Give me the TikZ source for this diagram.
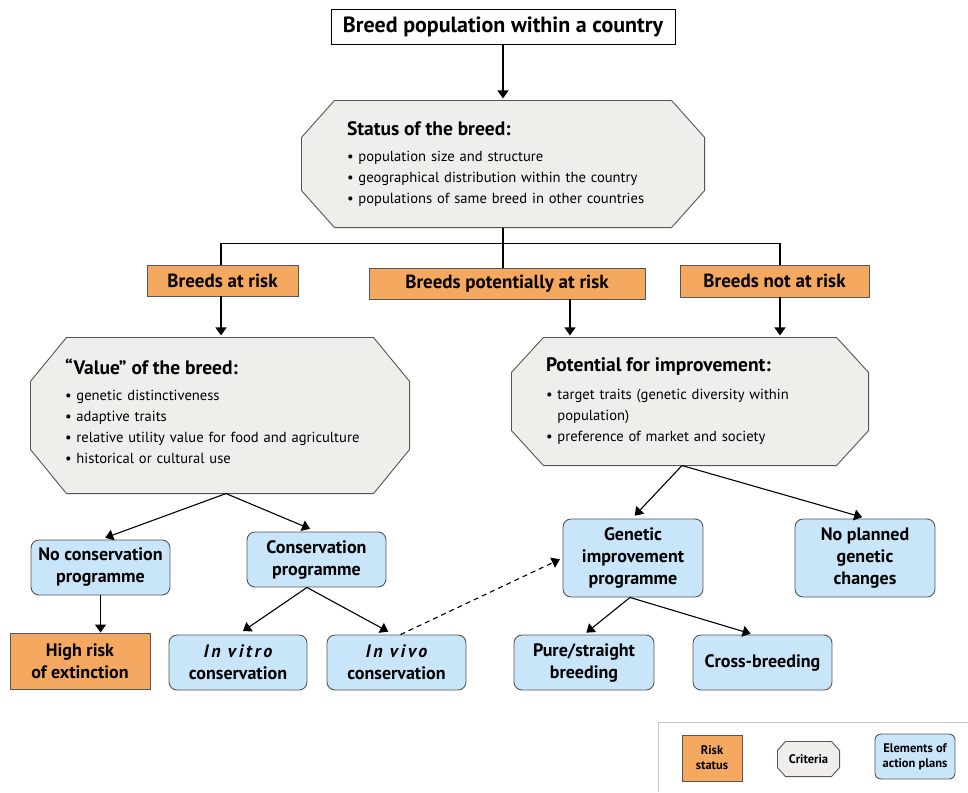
\documentclass[tikz,border=0pt]{standalone}
\usepackage{fontspec}
\setmainfont{PT Sans}
\usetikzlibrary{positioning, arrows.meta, calc, backgrounds}

\definecolor{riskfill}{RGB}{245,168,96}
\definecolor{planfill}{RGB}{200,229,249}
\definecolor{critfill}{RGB}{239,238,235}
\definecolor{boxline}{RGB}{85,85,85}
\definecolor{legline}{RGB}{200,200,200}

% octagon drawn round a (frameless) criteria node
\newcommand{\critframe}[3]{%
  \draw[boxline, fill=critfill, line width=0.9pt]
    ($(#1.north west)+(#2,0)$) -- ($(#1.north east)+(-#2,0)$) -- ($(#1.north east)+(0,#3)$)
    -- ($(#1.south east)+(0,-#3)$) -- ($(#1.south east)+(-#2,0)$) -- ($(#1.south west)+(#2,0)$)
    -- ($(#1.south west)+(0,-#3)$) -- ($(#1.north west)+(0,#3)$) -- cycle;}

\begin{document}
\begin{tikzpicture}[x=1pt, y=-1pt, line width=1.1pt,
    risk/.style = {draw=boxline, fill=riskfill, line width=0.9pt, align=center,
                   font=\fontsize{19}{22}\selectfont\bfseries},
    plan/.style = {draw=boxline, fill=planfill, line width=0.9pt, rounded corners=8pt, align=center,
                   minimum width=139pt, minimum height=55pt, font=\fontsize{18}{22}\selectfont\bfseries},
    crit/.style = {inner xsep=0pt, align=left, font=\fontsize{14.6}{21}\selectfont},
    arr/.style = {-{Triangle[length=8pt,width=11pt]}, line width=1.1pt},
    linkdash/.style = {dash pattern=on 5pt off 4pt}]
    \useasboundingbox (0,0) rectangle (968,792);

    % top of the tree
    \node[draw=black, line width=0.9pt, fill=white, minimum width=344pt, minimum height=35pt,
          font=\fontsize{22}{24}\selectfont\bfseries] (country) at (503,26.5) {Breed population within a country};

    \node[crit, minimum width=402pt, minimum height=126pt, text width=312pt] (status) at (503,164)
        {{\fontsize{19.5}{22}\selectfont\bfseries Status of the breed:}\\[5pt]
         \textbullet\ population size and structure\\
         \textbullet\ geographical distribution within the country\\
         \textbullet\ populations of same breed in other countries};

    % risk status
    \node[risk, minimum width=151pt, minimum height=31pt] (atrisk) at (222.5,280.5) {Breeds at risk};
    \node[risk, minimum width=276pt, minimum height=31pt] (potrisk) at (507,283.5) {Breeds potentially at risk};
    \node[risk, minimum width=189pt, minimum height=32pt] (norisk) at (774.5,281) {Breeds not at risk};

    % criteria
    \node[crit, minimum width=378pt, minimum height=155pt, text width=310pt] (value) at (220,415.5)
        {{\fontsize{19.5}{22}\selectfont\bfseries “Value” of the breed:}\\[5pt]
         \textbullet\ genetic distinctiveness\\
         \textbullet\ adaptive traits\\
         \textbullet\ relative utility value for food and agriculture\\
         \textbullet\ historical or cultural use\\[-13pt]\mbox{}};
    \node[crit, minimum width=356pt, minimum height=127pt, text width=288pt] (improve) at (690,401.5)
        {{\fontsize{19.5}{22}\selectfont\bfseries Potential for improvement:}\\[7pt]
         \textbullet\ target traits (genetic diversity within\\
         \phantom{\textbullet\ }population)\\
         \textbullet\ preference of market and society};

    % action plans
    \node[plan] (nocons) at (100.5,567.5) {No conservation\\programme};
    \node[plan] (cons) at (316.5,559.5) {Conservation\\programme};
    \node[risk, minimum width=140pt, minimum height=56pt, font=\fontsize{18}{22}\selectfont\bfseries]
        (highrisk) at (80,661) {High risk\\of extinction};
    \node[plan, minimum width=138pt] (invitro) at (238,662.5)
        {{\itshape\addfontfeatures{LetterSpace=15}In vitro}\\conservation};
    \node[plan] (invivo) at (396.5,662.5)
        {{\itshape\addfontfeatures{LetterSpace=15}In vivo}\\conservation};
    \node[plan, minimum width=140pt, minimum height=78pt] (genimp) at (633,558) {Genetic\\improvement\\programme};
    \node[plan, minimum width=140pt, minimum height=78pt] (noplan) at (865,558) {No planned\\genetic\\changes};
    \node[plan, minimum width=140pt] (pure) at (584,662.5) {Pure/straight\\breeding};
    \node[plan] (cross) at (762.5,662.5) {Cross-breeding};

    % legend
    \draw[legline, line width=1pt] (968,722) -- (658,722) -- (658,792);
    \node[risk, minimum width=60pt, minimum height=46pt, font=\fontsize{12.5}{15}\selectfont\bfseries]
        (legrisk) at (712,758) {Risk\\status};
    \node[crit, minimum width=61pt, minimum height=34pt, inner xsep=0pt, align=center,
          font=\fontsize{12.5}{15}\selectfont\bfseries] (legcrit) at (808.5,759) {Criteria};
    \node[plan, minimum width=80pt, minimum height=45pt, rounded corners=6pt,
          font=\fontsize{12.5}{15}\selectfont\bfseries] (legplan) at (915,756.5) {Elements of\\action plans};

    \begin{scope}[on background layer]
        \critframe{status}{33}{37}
        \critframe{value}{36}{44}
        \critframe{improve}{32}{35}
        \critframe{legcrit}{8}{9}
    \end{scope}

    % connectors
    \draw[arr, shorten >=2pt] (country) -- (status);
    \draw (status.south) -- ++(0,16) coordinate (split);
    \draw ([xshift=-1.5pt]atrisk.north) |- (split) -| ([xshift=5.5pt]norisk.north);
    \draw (split) -- ([xshift=-4pt]potrisk.north);

    \draw[arr, shorten >=2pt] ([xshift=-1.5pt]atrisk.south) -- ([xshift=-1.5pt]atrisk.south |- value.north);
    \draw[arr, shorten >=2pt] ([xshift=63pt]potrisk.south) -- ([xshift=63pt]potrisk.south |- improve.north);
    \draw[arr, shorten >=2pt] ([xshift=5.5pt]norisk.south) -- ([xshift=5.5pt]norisk.south |- improve.north);

    \draw[arr, shorten >=5pt] ([xshift=6pt]value.south) -- (nocons.north);
    \draw[arr, shorten >=7pt] ([xshift=6pt]value.south) -- (cons.north);
    \draw[arr] (nocons.south) -- (nocons.south |- highrisk.north);
    \draw[arr, shorten >=6pt] ([xshift=-9.5pt]cons.south) -- (invitro.north);
    \draw[arr, shorten >=6pt] ([xshift=-9.5pt]cons.south) -- ([xshift=-3pt]invivo.north);
    \draw[arr, linkdash, shorten >=3pt] ([xshift=4pt]invivo.north) -- (genimp.west);

    \draw[arr, shorten >=4pt] ([xshift=-8pt]improve.south) -- ([xshift=-1pt]genimp.north);
    \draw[arr, shorten >=5pt] ([xshift=-8pt]improve.south) -- ([xshift=2pt]noplan.north);
    \draw[arr, shorten >=3pt] ([xshift=-3pt]genimp.south) -- (pure.north);
    \draw[arr, shorten >=3pt] ([xshift=-3pt]genimp.south) -- ([xshift=-9pt]cross.north);
\end{tikzpicture}
\end{document}
